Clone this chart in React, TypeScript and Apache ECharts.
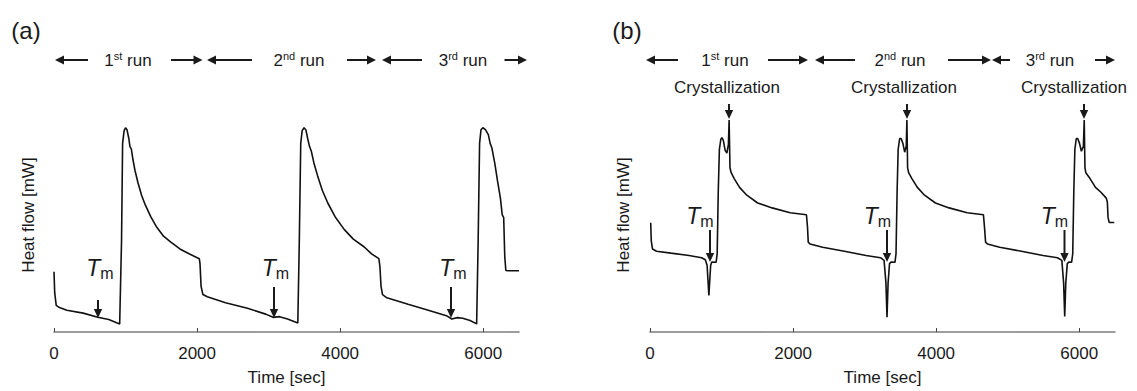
import React, { useEffect, useRef } from "react";
import * as echarts from "echarts";

// ---- data ----
const xTicks = [0, 2000, 4000, 6000];

// panel (a): time [sec] and heat flow (arbitrary units)
const timeA = [
  0, 10, 31, 77, 179, 408, 612, 765, 918,
  944, 959, 980, 1000, 1020, 1046, 1061, 1082, 1102, 1133, 1173, 1224, 1276, 1352, 1429, 1531, 1633, 1760, 1888, 2031,
  2041, 2056, 2082, 2143, 2398, 2704, 2959, 3061, 3153, 3265, 3408,
  3429, 3449, 3469, 3495, 3520, 3546, 3571, 3597, 3633, 3684, 3750, 3827, 3929, 4056, 4184, 4337, 4439, 4541,
  4556, 4571, 4592, 4653, 4949, 5255, 5485, 5561, 5638, 5714, 5816, 5908,
  5929, 5949, 5969, 5995, 6031, 6071, 6097, 6122, 6163, 6199, 6240, 6265, 6286,
  6301, 6316, 6352, 6500,
];
const heatA = [
  61.7, 40, 27.3, 25, 22.3, 19.3, 15, 12.7, 8.3,
  93, 193, 206, 209, 207, 198, 190, 187, 177, 165, 153, 140, 130, 118, 108, 98, 92, 85, 80, 75,
  70, 46.7, 38.3, 36, 30, 24.3, 18.3, 15, 15.7, 13.3, 9.3,
  93, 193, 206, 209, 207, 198, 190, 185, 173, 160, 145, 132, 118, 105, 95, 87, 80, 75,
  67, 47, 38.3, 35, 28.3, 21.7, 16.7, 13.3, 14.7, 14, 11.7, 8.3,
  93, 193, 207, 209, 207, 202, 193, 188, 172, 155, 137, 120, 117,
  77, 63, 62.7, 62.7,
];

// panel (b)
const timeB = [
  10, 18, 35, 91, 293, 545, 722, 773, 798, 813, 823, 833, 848, 864, 924,
  939, 954, 970, 990, 1005, 1025, 1050, 1075, 1096, 1106, 1118, 1135, 1177, 1252, 1353, 1505, 1707, 1959, 2187,
  2202, 2212, 2237, 2414, 2717, 3020, 3222, 3272, 3298, 3313, 3328, 3348, 3373, 3424,
  3439, 3454, 3469, 3490, 3510, 3535, 3560, 3582, 3591, 3601, 3615, 3661, 3737, 3838, 3990, 4181, 4434, 4661,
  4676, 4691, 4717, 4888, 5191, 5494, 5696, 5757, 5782, 5797, 5812, 5833, 5858, 5893,
  5909, 5924, 5939, 5959, 5979, 6004, 6030, 6058, 6070, 6080, 6092, 6151, 6227, 6303, 6378, 6393, 6403, 6419, 6490,
];
const heatB = [
  111.7, 93, 85, 82.7, 80.7, 78.3, 76, 74, 68.3, 50, 37.3, 50, 68.3, 71.7, 71.3,
  80, 143, 187, 197, 199, 196, 186, 183, 192, 217, 168, 163, 157, 148, 140, 132, 127, 122, 120,
  107, 92, 90, 86.7, 82.7, 78.3, 76, 73.3, 50, 15, 50, 70, 71.7, 71.3,
  80, 143, 187, 198, 198, 193, 184, 190, 217, 168, 163, 157, 148, 140, 132, 127, 122, 120,
  107, 92, 90, 86.7, 82.7, 78.3, 76, 73.3, 50, 16, 50, 70, 71.7, 71.3,
  80, 143, 187, 198, 198, 193, 185, 190, 217, 168, 163, 157, 148, 143, 137, 133, 117, 112, 112,
];

const runNums = ["1", "2", "3"];
const runSups = ["st", "nd", "rd"];

// ---- styling / layout ----
const FONT = "'Liberation Sans', Arial, Helvetica, sans-serif";
const INK = "#1a1a1a";

function hArrow(tail: number, tip: number, y: number) {
  const d = tip > tail ? 1 : -1;
  const hl = 9;
  const hw = 4.5;
  return [
    { type: "line", shape: { x1: tail, y1: y, x2: tip - d * hl * 0.7, y2: y }, style: { stroke: INK, lineWidth: 2 } },
    { type: "polygon", shape: { points: [[tip, y], [tip - d * hl, y - hw], [tip - d * hl, y + hw]] }, style: { fill: INK } },
  ];
}
function vArrow(x: number, y1: number, tip: number) {
  const hl = 9;
  const hw = 4.2;
  return [
    { type: "line", shape: { x1: x, y1: y1, x2: x, y2: tip - hl * 0.7 }, style: { stroke: INK, lineWidth: 2 } },
    { type: "polygon", shape: { points: [[x, tip], [x - hw, tip - hl], [x + hw, tip - hl]] }, style: { fill: INK } },
  ];
}
function plainText(text: string, x: number, y: number, size: number, rotation = 0) {
  return {
    type: "text", x, y, rotation,
    style: { text, fill: INK, font: `${size}px ${FONT}`, align: "center", verticalAlign: "middle", textAlign: "center", textVerticalAlign: "middle" },
  };
}
function runText(i: number, x: number, y: number) {
  return {
    type: "text", x, y,
    style: {
      text: `{n|${runNums[i]}}{s|${runSups[i]}}{n| run}`,
      align: "center", verticalAlign: "middle", textAlign: "center", textVerticalAlign: "middle",
      rich: {
        n: { fontSize: 17, fontFamily: FONT, fill: INK, lineHeight: 20 },
        s: { fontSize: 11, fontFamily: FONT, fill: INK, lineHeight: 11, verticalAlign: "top" },
      },
    },
  };
}
function tmText(x: number, y: number) {
  return {
    type: "text", x, y,
    style: {
      text: "{t|T}{m|m}",
      align: "center", verticalAlign: "middle", textAlign: "center", textVerticalAlign: "middle",
      rich: {
        t: { fontSize: 23, fontStyle: "italic", fontFamily: FONT, fill: INK, lineHeight: 26 },
        m: { fontSize: 16, fontFamily: FONT, fill: INK, lineHeight: 16, verticalAlign: "bottom" },
      },
    },
  };
}

function buildGraphic() {
  const els: any[] = [];
  els.push(plainText("(a)", 26, 30, 24));
  els.push(plainText("(b)", 627, 30, 24));
  // y-axis titles
  els.push(plainText("Heat flow [mW]", 28, 215, 17, Math.PI / 2));
  els.push(plainText("Heat flow [mW]", 623, 215, 17, Math.PI / 2));
  // run arrows (a)
  els.push(...hArrow(88, 55, 60), ...hArrow(171, 202.5, 60));
  els.push(...hArrow(252, 207, 60), ...hArrow(347, 376, 60));
  els.push(...hArrow(422, 382, 60), ...hArrow(504.5, 527, 60));
  els.push(runText(0, 128, 60), runText(1, 299, 60), runText(2, 463, 60));
  // run arrows (b)
  els.push(...hArrow(678, 646, 60), ...hArrow(768, 808, 60));
  els.push(...hArrow(855, 815, 60), ...hArrow(948, 991, 60));
  els.push(...hArrow(1010, 992, 60), ...hArrow(1095, 1115, 60));
  els.push(runText(0, 725, 60), runText(1, 900, 60), runText(2, 1050, 60));
  // crystallization
  els.push(plainText("Crystallization", 727, 87.5, 17));
  els.push(plainText("Crystallization", 904, 87.5, 17));
  els.push(plainText("Crystallization", 1074, 87.5, 17));
  els.push(...vArrow(729, 104, 119), ...vArrow(907, 104, 119), ...vArrow(1084, 104, 119));
  // Tm (a)
  els.push(tmText(100, 268), tmText(275.5, 268), tmText(453, 268));
  els.push(...vArrow(98, 300, 318), ...vArrow(274, 287, 318), ...vArrow(451, 287, 318));
  // Tm (b)
  els.push(tmText(700, 216), tmText(877.5, 216), tmText(1054.5, 216));
  els.push(...vArrow(710, 230, 262), ...vArrow(887, 230, 262), ...vArrow(1064.5, 230, 262));
  return els;
}

function xAxisFor(gridIndex: number) {
  return {
    type: "value", gridIndex, min: 0, max: 6500, interval: 2000,
    axisLine: { lineStyle: { color: "#7c7c7c", width: 1.5 } },
    axisTick: { inside: true, length: 4, lineStyle: { color: "#444", width: 1 }, customValues: xTicks },
    axisLabel: {
      customValues: xTicks, fontSize: 17, color: INK, fontFamily: FONT, margin: 13,
      formatter: (v: number) => String(v),
    },
    splitLine: { show: false },
    name: "Time [sec]", nameLocation: "middle", nameGap: 37,
    nameTextStyle: { fontSize: 17, color: INK, fontFamily: FONT },
  };
}
function yAxisFor(gridIndex: number) {
  return {
    type: "value", gridIndex, min: 0, max: 220,
    axisLine: { show: false }, axisTick: { show: false }, axisLabel: { show: false }, splitLine: { show: false },
  };
}

export default function App() {
  const ref = useRef<HTMLDivElement>(null);
  useEffect(() => {
    if (!ref.current) return;
    const chart = echarts.init(ref.current, undefined, { renderer: "svg" });
    chart.setOption({
      animation: false,
      backgroundColor: "#ffffff",
      grid: [
        { left: 54, right: 618, top: 117, bottom: 54 },
        { left: 650, right: 22, top: 117, bottom: 54 },
      ],
      xAxis: [xAxisFor(0), xAxisFor(1)],
      yAxis: [yAxisFor(0), yAxisFor(1)],
      series: [
        {
          type: "line", xAxisIndex: 0, yAxisIndex: 0, showSymbol: false, silent: true,
          lineStyle: { color: "#111", width: 1.6 },
          data: timeA.map((t, i) => [t, heatA[i]]),
        },
        {
          type: "line", xAxisIndex: 1, yAxisIndex: 1, showSymbol: false, silent: true,
          lineStyle: { color: "#111", width: 1.6 },
          data: timeB.map((t, i) => [t, heatB[i]]),
        },
      ],
      graphic: buildGraphic(),
    });
    return () => chart.dispose();
  }, []);
  return <div ref={ref} style={{ position: "fixed", left: 0, top: 0, width: 1137, height: 391 }} />;
}
